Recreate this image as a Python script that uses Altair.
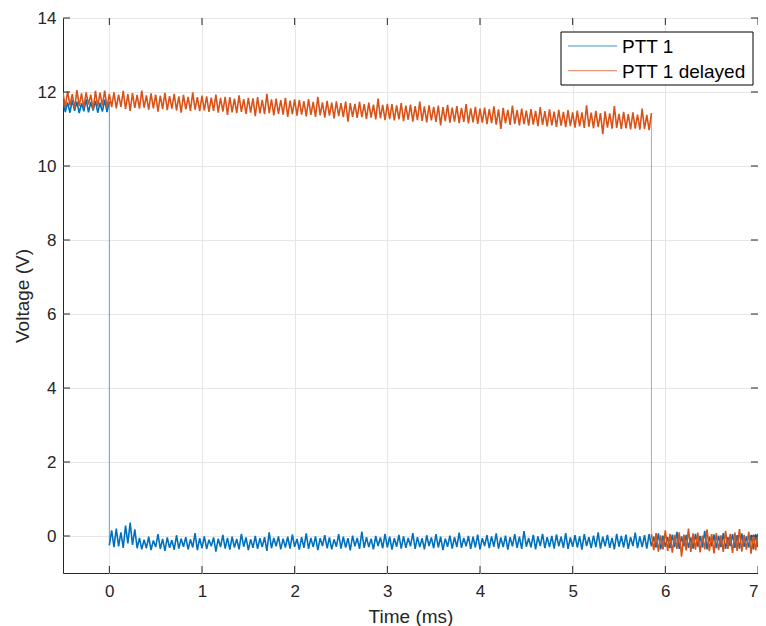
import altair as alt
import pandas as pd

STEP = 0.025  # sampling interval of the traces (ms)
T_START = -0.5
BLUE_DROP = 0.0
ORANGE_DROP = 5.85

series_names = ["PTT 1", "PTT 1 delayed"]
series_colors = ["#0072BD", "#D95319"]
x_ticks = [0, 1, 2, 3, 4, 5, 6, 7]
y_ticks = [0, 2, 4, 6, 8, 10, 12, 14]

blue_high = [11.75, 11.46, 11.72, 11.44, 11.78, 11.49, 11.74, 11.43, 11.70, 11.48, 11.80, 11.45, 11.73, 11.50, 11.76, 11.44, 11.71, 11.47, 11.79, 11.46, 11.74]

blue_low = [-0.25, 0.15, -0.30, 0.20, -0.28, 0.10, -0.32, 0.28, -0.20, 0.36, -0.24, 0.18, -0.33,
    -0.05, -0.36, -0.10, -0.33, -0.02, -0.38, -0.12, -0.30, 0.05, -0.35, -0.08, -0.40, -0.04, -0.32, -0.11, -0.37, 0.02, -0.34, -0.07, -0.29,
    -0.03, -0.36, -0.09, -0.31, 0.08, -0.38, -0.06, -0.33, -0.01, -0.35, -0.10, -0.28, -0.04, -0.42, -0.07, -0.30, 0.03, -0.34, -0.05, -0.37,
    -0.02, -0.31, -0.08, -0.36, 0.06, -0.29, -0.04, -0.38, -0.09, -0.32, 0.00, -0.35, -0.06, -0.30, -0.03, -0.40, 0.10, -0.33, -0.05, -0.28,
    -0.01, -0.36, -0.07, -0.31, -0.02, -0.34, 0.04, -0.29, -0.08, -0.37, -0.03, -0.32, 0.07, -0.35, -0.05, -0.30, -0.01, -0.38, -0.06, -0.27,
    0.02, -0.33, -0.04, -0.36, -0.09, -0.29, 0.05, -0.34, -0.02, -0.31, -0.06, -0.39, 0.01, -0.28, -0.05, -0.35, 0.12, -0.32, -0.03, -0.30,
    -0.07, -0.36, 0.00, -0.27, -0.04, -0.33, 0.06, -0.31, -0.02, -0.37, -0.06, -0.29, 0.03, -0.34, -0.01, -0.32, -0.05, -0.28, 0.08, -0.35,
    -0.03, -0.30, -0.06, -0.36, 0.02, -0.27, -0.04, -0.33, 0.05, -0.31, -0.02, -0.38, -0.07, -0.29, 0.01, -0.34, -0.03, -0.30, 0.09, -0.32,
    -0.05, -0.28, 0.00, -0.35, -0.02, -0.31, 0.04, -0.36, -0.06, -0.27, 0.02, -0.33, -0.01, -0.29, 0.07, -0.34, -0.04, -0.30, 0.01, -0.37,
    -0.03, -0.28, 0.05, -0.32, -0.02, -0.35, 0.13, -0.29, -0.05, -0.31, 0.03, -0.36, -0.01, -0.27, 0.06, -0.33, -0.03, -0.30, 0.00, -0.34,
    0.04, -0.28, -0.02, -0.32, 0.08, -0.35, -0.04, -0.29, 0.02, -0.31, -0.01, -0.37, 0.05, -0.27, -0.03, -0.33, 0.01, -0.30, 0.10, -0.34,
    -0.02, -0.28, 0.03, -0.32, -0.05, -0.36, 0.06, -0.29, 0.00, -0.31, 0.04, -0.35, -0.03, -0.27, 0.09, -0.33, -0.01, -0.30, 0.02, -0.34,
    0.05, -0.28, -0.02, -0.31, 0.07, -0.36, 0.01, -0.29, -0.03, -0.33, 0.04, -0.30, 0.11, -0.35, -0.01, -0.28, 0.03, -0.32, -0.04, -0.34,
    0.06, -0.29, 0.00, -0.31, 0.14, -0.36, -0.02, -0.28, 0.04, -0.33, 0.01, -0.30, 0.08, -0.35, -0.03, -0.27, 0.05, -0.32, 0.02, -0.34,
    0.07, -0.29, -0.01, -0.31, 0.03, -0.36, 0.05, -0.30]

orange_high = [11.97, 11.60, 12.02, 11.64, 11.94, 11.55, 12.05, 11.62, 11.96, 11.58, 11.99, 11.66, 11.93, 11.52, 12.03, 11.61, 11.98, 11.63, 12.04, 11.57, 11.95,
    11.59, 11.99, 11.56, 11.93, 11.60, 12.03, 11.54, 11.94, 11.49, 11.97, 11.57, 11.92, 11.55, 12.04, 11.58, 11.91, 11.52, 11.96, 11.56, 11.93,
    11.47, 11.90, 11.54, 11.98, 11.51, 11.89, 11.55, 11.95, 11.50, 11.88, 11.44, 11.92, 11.53, 11.87, 11.49, 11.99, 11.52, 11.86, 11.48, 11.90,
    11.50, 11.88, 11.46, 11.85, 11.49, 11.93, 11.44, 11.84, 11.47, 11.87, 11.38, 11.86, 11.45, 11.82, 11.43, 11.91, 11.46, 11.81, 11.41, 11.84,
    11.44, 11.83, 11.35, 11.86, 11.42, 11.79, 11.40, 11.95, 11.43, 11.80, 11.37, 11.82, 11.41, 11.78, 11.39, 11.84, 11.33, 11.77, 11.40, 11.80,
    11.36, 11.79, 11.39, 11.75, 11.34, 11.81, 11.38, 11.73, 11.33, 11.87, 11.37, 11.72, 11.31, 11.76, 11.36, 11.71, 11.29, 11.75, 11.35, 11.70,
    11.32, 11.74, 11.20, 11.70, 11.33, 11.68, 11.30, 11.73, 11.32, 11.67, 11.27, 11.71, 11.31, 11.66, 11.26, 11.82, 11.29, 11.65, 11.24, 11.68,
    11.27, 11.67, 11.23, 11.64, 11.26, 11.70, 11.21, 11.63, 11.25, 11.66, 11.20, 11.62, 11.24, 11.74, 11.22, 11.61, 11.18, 11.64, 11.23, 11.60,
    11.19, 11.63, 11.10, 11.59, 11.21, 11.65, 11.17, 11.58, 11.20, 11.62, 11.16, 11.57, 11.19, 11.67, 11.15, 11.56, 11.18, 11.60, 11.14, 11.55,
    11.17, 11.58, 11.13, 11.54, 11.16, 11.61, 11.12, 11.53, 11.00, 11.57, 11.15, 11.52, 11.11, 11.63, 11.14, 11.51, 11.10, 11.55, 11.13, 11.50,
    11.09, 11.54, 11.12, 11.49, 11.08, 11.59, 11.11, 11.48, 11.07, 11.53, 11.10, 11.47, 11.06, 11.52, 11.09, 11.46, 11.05, 11.51, 11.08, 11.45,
    11.04, 11.50, 11.07, 11.45, 11.03, 11.64, 11.06, 11.44, 11.02, 11.49, 11.05, 11.43, 10.86, 11.48, 11.04, 11.42, 11.01, 11.62, 11.03, 11.41,
    11.00, 11.46, 11.02, 11.40, 10.99, 11.45, 11.01, 11.39, 10.98, 11.55, 11.00, 11.38, 10.97, 11.43]

orange_low = [0.05, -0.38, 0.08, -0.42, 0.02, -0.36, 0.15, -0.40, 0.06, -0.45, 0.03, -0.35, 0.10, -0.56, 0.04, -0.39, 0.20, -0.43, 0.07, -0.37,
    0.09, -0.44, 0.01, -0.36, 0.18, -0.41, 0.05, -0.47, 0.08, -0.38, 0.02, -0.43, 0.14, -0.35, 0.06, -0.46, 0.09, -0.40, 0.19, -0.42,
    0.03, -0.37, 0.11, -0.48, 0.04, -0.39, 0.07]


def trace(name, high, low, drop):
    rows = []
    for i, v in enumerate(high):
        rows.append({"series": name, "seg": "high", "time": round(T_START + STEP * i, 4), "volt": v})
    for i, v in enumerate(low):
        rows.append({"series": name, "seg": "low", "time": round(drop + STEP * i, 4), "volt": v})
    df = pd.DataFrame(rows)
    df["idx"] = range(len(df))
    return df


blue_df = trace(series_names[0], blue_high, blue_low, BLUE_DROP)
orange_df = trace(series_names[1], orange_high, orange_low, ORANGE_DROP)

W, H = 695, 555
FONT = "Liberation Sans"
INK = "#262626"

x_scale = alt.Scale(domain=[-0.5, 7], nice=False, zero=False)
y_scale = alt.Scale(domain=[-1, 14], nice=False, zero=False)
x_axis = alt.Axis(values=x_ticks, title="Time (ms)", format="d", labelPadding=10, titlePadding=8)
y_axis = alt.Axis(values=y_ticks, title="Voltage (V)", format="d", labelPadding=7, titlePadding=5)


def trace_layers(df, color):
    enc = dict(
        x=alt.X("time:Q", scale=x_scale, axis=x_axis),
        y=alt.Y("volt:Q", scale=y_scale, axis=y_axis),
        order="idx:Q",
    )
    # the fast edge between the two levels (last high sample -> first low sample)
    n_high = int((df["seg"] == "high").sum())
    edge = df.iloc[n_high - 1:n_high + 1]
    edge_layer = alt.Chart(edge).mark_line(color=color, strokeWidth=1, opacity=0.6, clip=True).encode(**enc)
    noise_layer = alt.Chart(df).mark_line(color=color, strokeWidth=1.6, strokeJoin="bevel", clip=True).encode(
        detail="seg:N", **enc)
    return [edge_layer, noise_layer]


xt = pd.DataFrame({"time": x_ticks})
yt = pd.DataFrame({"volt": y_ticks})
tick_len = 7
ticks = [
    alt.Chart(xt).mark_rule(color=INK, strokeWidth=1).encode(
        x=alt.X("time:Q", scale=x_scale, axis=x_axis), y=alt.value(H), y2=alt.value(H - tick_len)),
    alt.Chart(xt).mark_rule(color=INK, strokeWidth=1).encode(
        x=alt.X("time:Q", scale=x_scale, axis=x_axis), y=alt.value(0), y2=alt.value(tick_len)),
    alt.Chart(yt).mark_rule(color=INK, strokeWidth=1).encode(
        y=alt.Y("volt:Q", scale=y_scale, axis=y_axis), x=alt.value(0), x2=alt.value(tick_len)),
    alt.Chart(yt).mark_rule(color=INK, strokeWidth=1).encode(
        y=alt.Y("volt:Q", scale=y_scale, axis=y_axis), x=alt.value(W), x2=alt.value(W - tick_len)),
]

# legend box
leg = pd.DataFrame({"series": series_names, "color": series_colors})
legend_layers = [
    alt.Chart(leg.head(1)).mark_rect(fill="white", stroke="black", strokeWidth=1).encode(
        x=alt.value(498), x2=alt.value(690), y=alt.value(14), y2=alt.value(67)),
]
for i, (name, col) in enumerate(zip(series_names, series_colors)):
    yy = 28 + 24.7 * i
    sub = leg.iloc[[i]]
    legend_layers.append(
        alt.Chart(sub).mark_rule(color=col, strokeWidth=1, opacity=0.75).encode(
            x=alt.value(505), x2=alt.value(554), y=alt.value(yy)))
    legend_layers.append(
        alt.Chart(sub).mark_text(align="left", baseline="middle", font=FONT, fontSize=19, color="black").encode(
            x=alt.value(559), y=alt.value(yy + 1), text="series:N"))

chart = alt.layer(
    *trace_layers(blue_df, series_colors[0]),
    *trace_layers(orange_df, series_colors[1]),
    *ticks,
    *legend_layers,
).properties(
    width=W, height=H,
    autosize=alt.AutoSizeParams(type="none"),
    padding={"left": 55, "top": 10, "right": 0, "bottom": 53},
    background="white",
).configure_view(
    stroke=INK, strokeWidth=1
).configure_axis(
    grid=True, gridColor="#e6e6e6", gridWidth=1, domain=False, ticks=False,
    labelFont=FONT, labelFontSize=17, labelColor=INK,
    titleFont=FONT, titleFontSize=19, titleColor=INK, titleFontWeight="normal",
)

chart.save("out.html", embed_options={"renderer": "svg", "actions": False})
